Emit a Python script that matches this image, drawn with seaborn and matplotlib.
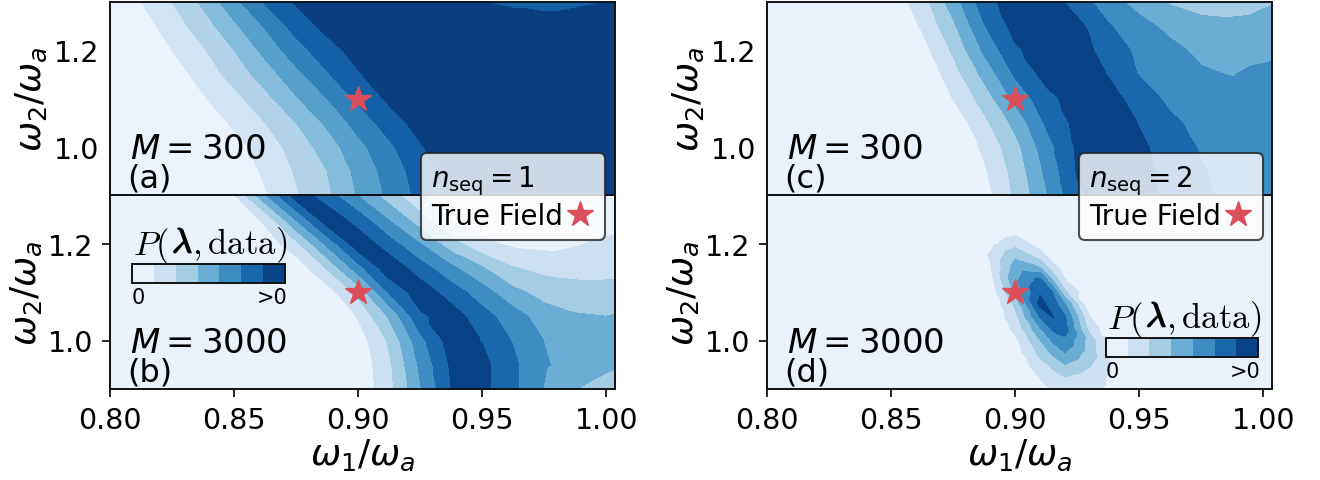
import numpy as np
import matplotlib
matplotlib.use('Agg')
import matplotlib.pyplot as plt
import matplotlib.patheffects as pe
from matplotlib.colors import Normalize
from matplotlib.lines import Line2D
from matplotlib.tri import Triangulation
import seaborn as sns

# grid the top panels and (b) were read on
w1_grid = [0.80, 0.8125, 0.825, 0.8375, 0.85, 0.8625, 0.875, 0.8875, 0.90,
           0.9125, 0.925, 0.9375, 0.95, 0.9625, 0.975, 0.9875, 1.00, 1.0125]
w2_grid = [0.90, 0.95, 1.00, 1.05, 1.10, 1.15, 1.20, 1.25, 1.30]

# probability bands, rows go up in w2
p_a = [
    [.1, .1, .1, .1, .1, .9, 1.9, 2.8, 4.1, 5.2, 6.3, 7.2, 7.7, 7.7, 7.7, 7.7, 7.7, 7.7],
    [.1, .1, .1, .1, .2, 1.2, 2.1, 3.0, 4.3, 5.4, 6.5, 7.4, 7.8, 7.8, 7.8, 7.8, 7.8, 7.8],
    [.1, .1, .1, .1, .6, 1.5, 2.4, 3.5, 4.7, 5.8, 6.9, 7.7, 7.8, 7.8, 7.8, 7.8, 7.8, 7.8],
    [.1, .1, .1, .2, 1.2, 2.0, 3.0, 4.2, 5.4, 6.5, 7.4, 7.8, 7.8, 7.8, 7.8, 7.8, 7.8, 7.8],
    [.1, .1, .1, .9, 1.7, 2.7, 3.9, 5.0, 6.2, 7.2, 7.8, 7.8, 7.8, 7.8, 7.8, 7.8, 7.8, 7.8],
    [.1, .1, .5, 1.4, 2.4, 3.5, 4.7, 5.9, 6.9, 7.6, 7.8, 7.8, 7.8, 7.8, 7.8, 7.8, 7.8, 7.8],
    [.1, .1, 1.0, 1.9, 3.0, 4.3, 5.6, 6.6, 7.4, 7.7, 7.7, 7.7, 7.7, 7.7, 7.7, 7.7, 7.7, 7.7],
    [.1, .5, 1.5, 2.5, 3.8, 5.1, 6.4, 7.3, 7.6, 7.6, 7.6, 7.5, 7.4, 7.3, 7.3, 7.3, 7.4, 7.5],
    [.1, 1.0, 2.0, 3.2, 4.7, 6.1, 7.1, 7.5, 7.4, 7.3, 7.2, 7.1, 7.0, 6.9, 6.8, 6.9, 7.0, 7.2],
]

p_b = [
    [.1, .1, .1, .1, .1, .1, .1, .1, .2, 1.7, 3.9, 6.0, 6.3, 5.2, 3.95, 3.03, 2.6, 2.3],
    [.1, .1, .1, .1, .1, .1, .1, .1, .3, 1.8, 4.2, 6.15, 6.3, 5.2, 4.1, 3.6, 3.2, 2.9],
    [.1, .1, .1, .1, .1, .1, .1, .1, .5, 2.15, 4.67, 6.5, 5.95, 4.92, 3.98, 3.6, 3.4, 3.4],
    [.1, .1, .1, .1, .1, .1, .1, .1, 1.08, 3.15, 5.8, 6.5, 5.4, 4.45, 3.5, 3.1, 3.0, 3.2],
    [.1, .1, .1, .1, .1, .1, .1, .5, 2.32, 5.11, 6.6, 5.52, 4.44, 3.26, 2.6, 2.4, 2.35, 2.4],
    [.1, .1, .1, .1, .1, .1, .3, 2.12, 4.63, 6.7, 5.45, 4.22, 3.06, 2.05, 1.7, 1.6, 1.65, 1.85],
    [.1, .1, .1, .1, .1, .3, 1.77, 4.28, 6.7, 5.41, 4.0, 2.39, 1.2, .8, .7, .9, 1.2, 1.4],
    [.1, .1, .1, .1, .1, 1.25, 4.1, 6.7, 5.52, 3.91, 2.4, .95, .5, .4, .4, .4, .5, .6],
    [.1, .1, .1, .2, .96, 3.9, 6.6, 5.43, 3.92, 2.46, 1.09, .4, .3, .3, .3, .3, .3, .3],
]

p_c = [
    [.1, .1, .1, .1, .1, .1, .1, .55, 2.16, 3.9, 5.85, 6.5, 6.35, 5.75, 5.17, 4.75, 4.6, 4.6],
    [.1, .1, .1, .1, .1, .1, .1, .85, 2.35, 4.22, 6.08, 6.6, 6.3, 5.7, 5.08, 4.7, 4.6, 4.6],
    [.1, .1, .1, .1, .1, .1, .1, 1.2, 2.65, 4.58, 6.15, 6.6, 6.2, 5.55, 4.9, 4.65, 4.6, 4.6],
    [.1, .1, .1, .1, .1, .1, .3, 1.76, 3.31, 5.13, 6.3, 6.6, 5.95, 5.2, 4.7, 4.6, 4.6, 4.6],
    [.1, .1, .1, .1, .1, .1, 1.03, 2.44, 4.28, 5.66, 6.5, 6.4, 5.55, 4.75, 4.55, 4.5, 4.5, 4.6],
    [.1, .1, .1, .1, .1, .1, 1.57, 3.3, 5.13, 6.35, 6.6, 5.95, 4.95, 4.55, 4.15, 3.95, 4.4, 4.7],
    [.1, .1, .1, .1, .1, .6, 2.16, 4.18, 5.85, 6.5, 6.5, 5.55, 4.78, 4.3, 3.75, 3.3, 3.5, 4.5],
    [.1, .1, .1, .1, .1, 1.12, 2.79, 4.93, 6.35, 6.7, 6.3, 5.09, 4.37, 3.7, 3.4, 3.3, 3.4, 3.6],
    [.1, .1, .1, .1, .3, 1.6, 3.5, 5.55, 6.6, 6.6, 5.53, 4.45, 3.59, 2.9, 2.5, 2.5, 2.85, 3.2],
]

# (d) is a small blob so it gets its own finer grid
w1_grid_d = [0.80, 0.88, 0.89, 0.90, 0.91, 0.915, 0.92, 0.93, 0.94, 0.95, 1.0125]
w2_grid_d = [0.90, 0.925, 0.95, 0.975, 1.00, 1.025, 1.05, 1.075, 1.10, 1.125, 1.15,
             1.175, 1.20, 1.225, 1.30]
p_d = [
    [.1, .1, .1, .1, .6, 1.1, 1.4, 1.3, .7, .1, .1],
    [.1, .1, .1, .3, 1.05, 1.6, 2.0, 1.5, .7, .1, .1],
    [.1, .1, .1, .3, 1.55, 2.25, 2.95, 2.1, .7, .1, .1],
    [.1, .1, .1, .5, 2.3, 3.2, 4.0, 2.55, .3, .1, .1],
    [.1, .1, .1, .7, 2.95, 4.1, 4.8, 2.55, .1, .1, .1],
    [.1, .1, .1, 1.25, 3.9, 5.2, 5.4, 1.6, .1, .1, .1],
    [.1, .1, .1, 1.7, 5.1, 6.05, 5.1, 1.0, .1, .1, .1],
    [.1, .1, .1, 2.2, 6.3, 5.6, 4.05, .1, .1, .1, .1],
    [.1, .1, .3, 3.2, 5.9, 5.0, 2.2, .1, .1, .1, .1],
    [.1, .1, .6, 3.8, 5.3, 3.0, 1.05, .1, .1, .1, .1],
    [.1, .1, .9, 3.4, 3.05, 1.45, .6, .1, .1, .1, .1],
    [.1, .1, 1.1, 2.8, 1.5, .5, .1, .1, .1, .1, .1],
    [.1, .1, .7, 1.6, .5, .2, .1, .1, .1, .1, .1],
    [.1, .1, .2, .7, .2, .1, .1, .1, .1, .1, .1],
    [.1, .1, .1, .1, .1, .1, .1, .1, .1, .1, .1],
]

true_field = [0.90, 1.10]
x_ticks = [0.80, 0.85, 0.90, 0.95, 1.00]
y_ticks = [1.0, 1.2]
star_color = '#DB4E5B'

sns.set_theme(style='ticks', rc={
    'axes.edgecolor': '#111111', 'text.color': 'black',
    'xtick.color': 'black', 'ytick.color': 'black',
    'axes.labelcolor': 'black', 'mathtext.fontset': 'dejavusans',
})
plt.rcParams['font.family'] = ['DejaVu Sans']
blues = sns.color_palette('Blues', as_cmap=True)

W, H = 1320, 481
fig = plt.figure(figsize=(W / 100, H / 100), dpi=100)


def add_axes(x0, x1, y0, y1):
    return fig.add_axes([x0 / W, 1 - y1 / H, (x1 - x0) / W, (y1 - y0) / H])


def diag_mesh(xs, ys):
    # split the cells along the bands (upper left to lower right) so ridges stay joined
    nx, ny = len(xs), len(ys)
    X, Y = np.meshgrid(xs, ys)
    tris = []
    for j in range(ny - 1):
        for i in range(nx - 1):
            a = j * nx + i
            tris.append([a, a + 1, a + nx])
            tris.append([a + 1, a + nx + 1, a + nx])
    return Triangulation(X.ravel(), Y.ravel(), tris)


def panel(ax, xs, ys, z, n_bands, m_text, tag, top):
    cf = ax.tricontourf(diag_mesh(xs, ys), np.array(z).ravel(), levels=np.arange(n_bands + 1),
                        cmap=blues, norm=Normalize(0, n_bands))
    ax.plot(*true_field, marker='*', ms=19, color=star_color, mec=star_color, zorder=5)
    ax.set_xlim(0.80, 1.0035)
    ax.set_ylim(0.90, 1.30)
    ax.set_xticks(x_ticks)
    ax.set_yticks(y_ticks)
    ax.set_ylabel(r'$\omega_2/\omega_a$', fontsize=26, labelpad=3)
    if top:
        ax.tick_params(direction='in', length=6, width=1.2, labelsize=20.5, pad=8,
                       labelbottom=False)
    else:
        ax.tick_params(direction='out', length=6, width=1.2, labelsize=20.5, pad=6)
        ax.set_xticklabels(['%.2f' % t for t in x_ticks])
        ax.set_xlabel(r'$\omega_1/\omega_a$', fontsize=26, labelpad=2)
    for s in ax.spines.values():
        s.set_linewidth(1.4)
    ax.text(0.808, 0.977, m_text, fontsize=24.5, va='baseline')
    ax.text(0.807, 0.918, tag, fontsize=23, va='baseline')
    return cf


def small_cbar(cf, x0, x1, y0, y1):
    cax = add_axes(x0, x1, y0, y1)
    cb = fig.colorbar(cf, cax=cax, orientation='horizontal')
    cb.set_ticks([0.3, 6.4], labels=['0', '>0'])
    cb.ax.tick_params(length=0, labelsize=15, pad=3)
    cb.outline.set_linewidth(1.4)
    # label comes in three pieces so the lambda alone can be thickened
    ty = 1 - (y0 - 25) / H
    fig.text((x0 + 37) / W, ty, r'$P($', fontsize=25, ha='right', va='center_baseline',
             math_fontfamily='cm')
    fig.text((x0 + 40) / W, ty, r'$\lambda$', fontsize=25, ha='left', va='center_baseline',
             math_fontfamily='cm',
             path_effects=[pe.withStroke(linewidth=1.0, foreground='black')])
    fig.text((x0 + 60) / W, ty, r'$,\mathrm{data})$', fontsize=25, ha='left',
             va='center_baseline', math_fontfamily='cm')


def seq_legend(ax, n_seq, x_px):
    handle = Line2D([], [], ls='', marker='*', ms=19, color=star_color)
    ax.legend([handle], ['True Field'], title=r'$n_{\mathrm{seq}}=%d$' % n_seq,
              title_fontsize=20, fontsize=20, alignment='left', markerfirst=False,
              loc='center', bbox_to_anchor=(x_px / W, 1 - 197.5 / H),
              bbox_transform=fig.transFigure, framealpha=0.8, edgecolor='#222222',
              handletextpad=0.05, handlelength=1.1, borderpad=0.35, labelspacing=0.2,
              borderaxespad=0).get_frame().set_linewidth(1.5)


ax_a = add_axes(110, 615, 3, 196)
ax_b = add_axes(110, 615, 196, 390)
ax_c = add_axes(767, 1272, 3, 196)
ax_d = add_axes(767, 1272, 196, 390)
ax_a.set_zorder(3)
ax_c.set_zorder(3)

panel(ax_a, w1_grid, w2_grid, p_a, 8, '$M=300$', '(a)', True)
cf_b = panel(ax_b, w1_grid, w2_grid, p_b, 7, '$M=3000$', '(b)', False)
panel(ax_c, w1_grid, w2_grid, p_c, 7, '$M=300$', '(c)', True)
cf_d = panel(ax_d, w1_grid_d, w2_grid_d, p_d, 7, '$M=3000$', '(d)', False)

seq_legend(ax_a, 1, 513)
seq_legend(ax_c, 2, 1171)
small_cbar(cf_b, 132, 285, 265, 284)
small_cbar(cf_d, 1106, 1258, 339, 358)

fig.savefig('out.png', dpi=100)
